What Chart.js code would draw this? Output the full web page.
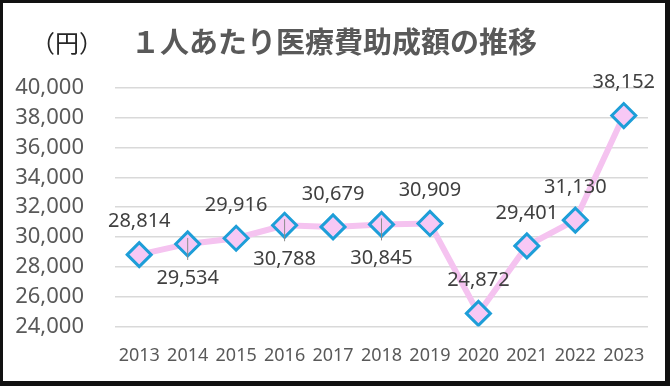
<!DOCTYPE html>
<html>
<head>
<meta charset="utf-8">
<script src="https://cdn.jsdelivr.net/npm/chart.js@4"></script>
<style>
html, body { margin: 0; padding: 0; background: #fff; }
#wrap { position: relative; width: 670px; height: 386px; }
#frame { position: absolute; left: 0; top: 0; width: 670px; height: 386px; box-sizing: border-box;
  border-style: solid; border-color: #111; border-width: 3px 5px 5px 3px; pointer-events: none; }
.unit { position: absolute; left: 31px; top: 30px; font: 24px/1 "Noto Sans CJK JP"; color: #262626; white-space: nowrap; }
.title { position: absolute; left: 131px; top: 26px; font: bold 29px/1 "Noto Sans CJK JP"; color: #595959; white-space: nowrap; }
</style>
</head>
<body>
<div id="wrap">
  <canvas id="line-chart" width="670" height="386"></canvas>
  <div class="unit">（円）</div>
  <div class="title">１人あたり医療費助成額の推移</div>
  <div id="frame"></div>
</div>
<script>
// data
var years = ['2013', '2014', '2015', '2016', '2017', '2018', '2019', '2020', '2021', '2022', '2023'];
var amounts = [28814, 29534, 29916, 30788, 30679, 30845, 30909, 24872, 29401, 31130, 38152];
var yTicks = [24000, 26000, 28000, 30000, 32000, 34000, 36000, 38000, 40000];

// colours
var lineFill = 'rgba(245, 195, 240, 1)';
var markerFill = 'rgba(247, 200, 245, 1)';
var markerStroke = 'rgba(30, 158, 216, 1)';
var gridGrey = 'rgba(217, 217, 217, 1)';
var textGrey = 'rgba(89, 89, 89, 1)';
var labelDark = 'rgba(64, 64, 64, 1)';

// indexes whose value label sits under the marker
var labelBelow = [1, 3, 5];

var fmt = function(v) {
    return Number(v).toLocaleString('en-US');
};

var pointLabels = {
    id: 'pointLabels',
    afterDatasetsDraw: function(chart) {
        var ctx = chart.ctx;
        var meta = chart.getDatasetMeta(0);
        ctx.save();
        ctx.font = '20px "Noto Sans"';
        ctx.fillStyle = labelDark;
        ctx.textAlign = 'center';
        ctx.textBaseline = 'middle';
        meta.data.forEach(function(pt, i) {
            var below = labelBelow.indexOf(i) >= 0;
            if (below) {
                // leader line
                ctx.strokeStyle = 'rgba(140, 140, 140, 1)';
                ctx.lineWidth = 1;
                ctx.beginPath();
                ctx.moveTo(pt.x, pt.y - 6);
                ctx.lineTo(pt.x, pt.y + 16);
                ctx.stroke();
            }
            ctx.fillText(fmt(amounts[i]), pt.x, below ? pt.y + 34 : pt.y - 33);
        });
        ctx.restore();
    }
};

Chart.defaults.font.family = '"Noto Sans"';

var ctx = document.getElementById('line-chart').getContext('2d');
var lineChart = new Chart(ctx, {
    type: 'line',
    data: {
        labels: years,
        datasets: [{
            label: '1人あたり医療費助成額',
            data: amounts,
            borderColor: lineFill,
            borderWidth: 6,
            tension: 0,
            pointStyle: 'rectRot',
            pointRadius: 12,
            pointBorderWidth: 3,
            pointBackgroundColor: markerFill,
            pointBorderColor: markerStroke
        }]
    },
    options: {
        responsive: false,
        animation: false,
        devicePixelRatio: 1,
        layout: { padding: { top: 88, right: 22, bottom: 0, left: 0 } },
        plugins: {
            legend: { display: false },
            tooltip: { enabled: false }
        },
        scales: {
            x: {
                offset: true,
                grid: { display: false, drawTicks: false },
                border: { display: false },
                ticks: {
                    color: textGrey,
                    font: { size: 18 },
                    padding: 19,
                    autoSkip: false,
                    maxRotation: 0
                }
            },
            y: {
                min: yTicks[0],
                max: yTicks[yTicks.length - 1],
                afterFit: function(scale) { scale.width = 115; },
                afterBuildTicks: function(scale) {
                    scale.ticks = yTicks.map(function(v) { return { value: v }; });
                },
                grid: { color: gridGrey, lineWidth: 1.5, drawTicks: false },
                border: { display: false },
                ticks: {
                    color: textGrey,
                    font: { size: 22 },
                    padding: 31,
                    autoSkip: false,
                    callback: function(v) { return fmt(v); }
                }
            }
        }
    },
    plugins: [pointLabels]
});
</script>
</body>
</html>
